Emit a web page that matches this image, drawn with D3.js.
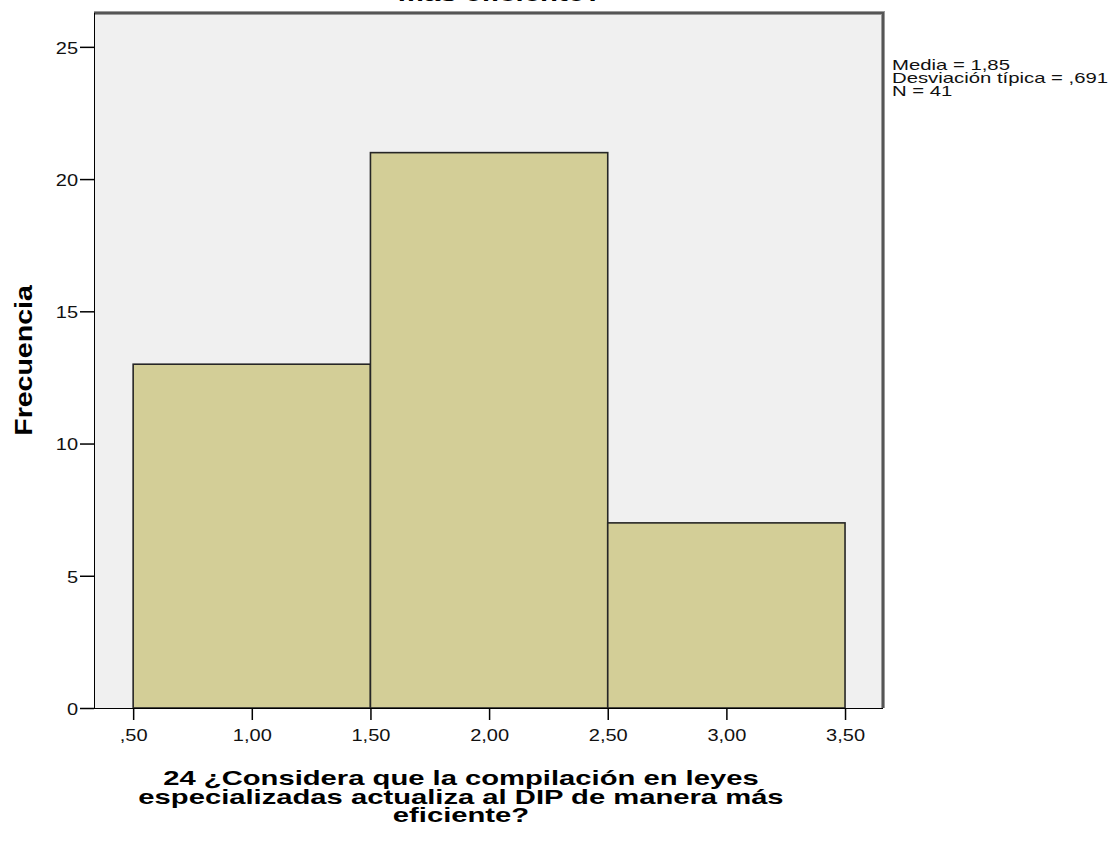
<!DOCTYPE html>
<html><head><meta charset="utf-8">
<script src="https://cdn.jsdelivr.net/npm/d3@7"></script>
<style>body{margin:0;background:#fff;} svg{display:block;font-family:"Liberation Sans",Arial,sans-serif;}</style>
</head><body>
<script>
const binStarts = [0.5, 1.5, 2.5];
const binEnds = [1.5, 2.5, 3.5];
const frequencies = [13, 21, 7];
const xTicks = [0.5, 1.0, 1.5, 2.0, 2.5, 3.0, 3.5];
const yTicks = [0, 5, 10, 15, 20, 25];
const statsLines = ["Media = 1,85", "Desviación típica = ,691", "N = 41"];
const xTitleLines = ["24 ¿Considera que la compilación en leyes", "especializadas actualiza al DIP de manera más", "eficiente?"];
const yTitle = "Frecuencia";
const topTitle = "más eficiente?";

const W = 1117, H = 848;
const svg = d3.select("body").append("svg").attr("width", W).attr("height", H);
const L = 94, R = 883, T = 13, B = 708;
const x = d3.scaleLinear().domain([0.335, 3.66]).range([L, R]);
const y = d3.scaleLinear().domain([0, 26.28]).range([B, T]);

// widen text along its reading direction (the reference glyphs are wide)
function widen(sel, k) {
  sel.each(function () {
    const n = this.getComputedTextLength();
    d3.select(this).attr("textLength", n * k).attr("lengthAdjust", "spacingAndGlyphs");
  });
}

// cut-off title at top
svg.append("text").attr("x", 500).attr("y", 1).attr("text-anchor", "middle")
  .attr("font-size", 21).attr("font-weight", "bold").attr("fill", "#000")
  .text(topTitle).call(widen, 1.4);

// plot background
svg.append("rect").attr("x", L).attr("y", T).attr("width", R - L).attr("height", B - T).attr("fill", "#f0f0f0");

// bars
const bins = binStarts.map((s, i) => ({s, e: binEnds[i], f: frequencies[i]}));
svg.append("g").selectAll("rect").data(bins).join("rect")
  .attr("x", d => x(d.s)).attr("y", d => y(d.f))
  .attr("width", d => x(d.e) - x(d.s)).attr("height", d => y(0) - y(d.f))
  .attr("fill", "#d3ce97").attr("stroke", "#262626").attr("stroke-width", 1.6);

// frame top/right
svg.append("path").attr("d", `M${L},${T}H${R}V${B}`).attr("fill", "none")
  .attr("stroke", "#9a9a9a").attr("stroke-width", 4);
svg.append("path").attr("d", `M${L},${T}H${R}V${B}`).attr("fill", "none")
  .attr("stroke", "#555").attr("stroke-width", 2);

// axes
const xAxis = d3.axisBottom(x).tickValues(xTicks).tickSize(12).tickSizeOuter(0)
  .tickFormat(d => { const s = d.toFixed(2).replace(".", ","); return s.startsWith("0") ? s.slice(1) : s; });
const gx = svg.append("g").attr("transform", `translate(0,${B})`).call(xAxis);
gx.select(".domain").attr("d", `M80,0.5H${R}`).attr("stroke", "#000");
gx.selectAll(".tick line").attr("stroke", "#000").attr("stroke-width", 1.5);
gx.selectAll(".tick text").attr("font-size", 16).attr("fill", "#111").attr("y", 0).attr("dy", 0)
  .attr("transform", "translate(0,33)").attr("font-family", "Liberation Sans, Arial, sans-serif").call(widen, 1.25);

const yAxis = d3.axisLeft(y).tickValues(yTicks).tickSize(14).tickSizeOuter(0);
const gy = svg.append("g").attr("transform", `translate(${L},0)`).call(yAxis);
gy.select(".domain").attr("d", `M0.5,${T}V${B}`).attr("stroke", "#000");
gy.selectAll(".tick line").attr("stroke", "#000").attr("stroke-width", 1.5);
gy.selectAll(".tick text").attr("font-size", 16).attr("fill", "#111").attr("x", -16).attr("dy", "0.4em")
  .attr("font-family", "Liberation Sans, Arial, sans-serif").call(widen, 1.25);

// y title
svg.append("text").attr("transform", `translate(32,${(T + B) / 2}) rotate(-90)`)
  .attr("text-anchor", "middle").attr("font-size", 23).attr("font-weight", "bold").text(yTitle)
  .call(widen, 1.24);

// x title
svg.append("g").selectAll("text").data(xTitleLines).join("text")
  .attr("x", 461).attr("y", (d, i) => 785 + i * 18.5).attr("text-anchor", "middle")
  .attr("font-size", 21).attr("font-weight", "bold").text(d => d).call(widen, 1.39);

// stats
svg.append("g").selectAll("text").data(statsLines).join("text")
  .attr("x", 892).attr("y", (d, i) => 70 + i * 12.8)
  .attr("font-size", 14.5).attr("fill", "#111").text(d => d).call(widen, 1.4);
</script>
</body></html>
